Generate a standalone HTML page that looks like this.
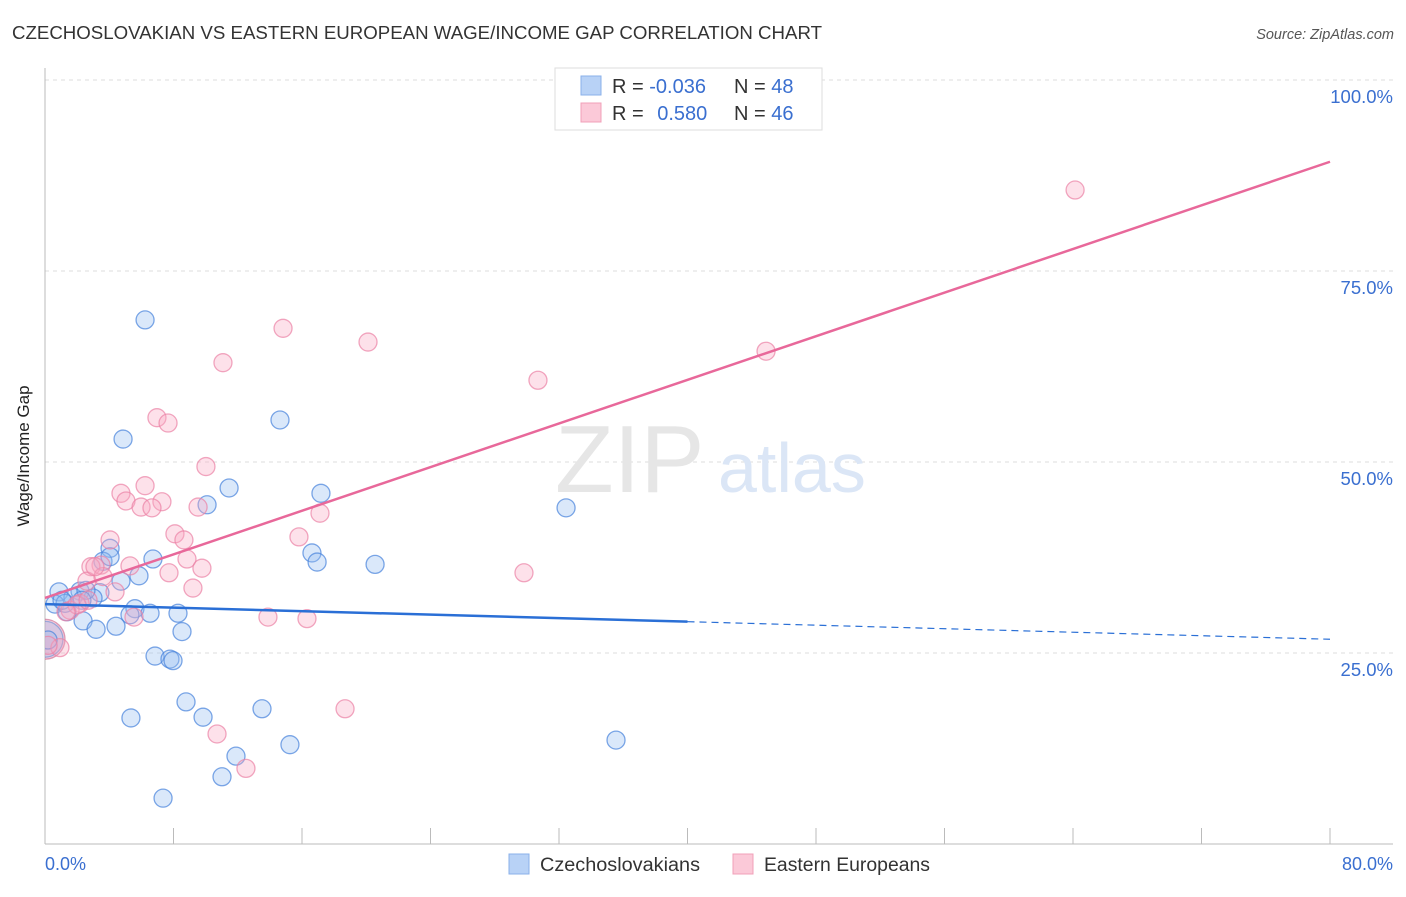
<!DOCTYPE html>
<html><head><meta charset="utf-8"><style>
body{margin:0;background:#fff;font-family:"Liberation Sans",sans-serif;}
svg text{font-family:"Liberation Sans",sans-serif;}
</style></head><body>
<svg width="1406" height="892" viewBox="0 0 1406 892">
<defs><clipPath id="pc"><rect x="45" y="60" width="1360" height="784"/></clipPath></defs>
<text x="12" y="39" font-size="18" fill="#333" textLength="810" lengthAdjust="spacingAndGlyphs">CZECHOSLOVAKIAN VS EASTERN EUROPEAN WAGE/INCOME GAP CORRELATION CHART</text>
<text x="1394" y="39" font-size="14.5" fill="#555" font-style="italic" text-anchor="end">Source: ZipAtlas.com</text>
<g id="grid"></g>
<line x1="45" y1="68" x2="45" y2="844" stroke="#bbb"/>
<line x1="45" y1="844" x2="1393" y2="844" stroke="#bbb"/>
<g id="xt"></g>
<text x="29" y="456" font-size="17" fill="#222" text-anchor="middle" transform="rotate(-90 29 456)">Wage/Income Gap</text>
<text x="45" y="870" font-size="18" fill="#3a6fd0">0.0%</text>
<text x="1393" y="870" font-size="18" fill="#3a6fd0" text-anchor="end">80.0%</text>
<text x="555" y="492" font-size="96" fill="#e6e6e6" font-family="Liberation Serif">ZIP</text>
<text x="718" y="492" font-size="70" fill="#dbe6f6">atlas</text>
<g id="pts" clip-path="url(#pc)"></g>
<g id="lines"></g>
<g>
<rect x="555" y="68" width="267" height="62" fill="#fff" stroke="#ddd"/>
<rect x="581" y="76" width="20" height="19" fill="#b8d2f6" stroke="#8ab0ea"/>
<rect x="581" y="103" width="20" height="19" fill="#fbc9d8" stroke="#f0a0b8"/>
<text x="612" y="93" font-size="20" fill="#333">R = <tspan fill="#3a6fd0">-0.036</tspan></text>
<text x="734" y="93" font-size="20" fill="#333">N = <tspan fill="#3a6fd0">48</tspan></text>
<text x="612" y="120" font-size="20" fill="#333">R = <tspan fill="#3a6fd0" dx="8">0.580</tspan></text>
<text x="734" y="120" font-size="20" fill="#333">N = <tspan fill="#3a6fd0">46</tspan></text>
</g>
<g>
<rect x="509" y="854" width="20" height="20" fill="#b8d2f6" stroke="#8ab0ea"/>
<text x="540" y="871" font-size="19" fill="#333" textLength="160" lengthAdjust="spacingAndGlyphs">Czechoslovakians</text>
<rect x="733" y="854" width="20" height="20" fill="#fbc9d8" stroke="#f0a0b8"/>
<text x="764" y="871" font-size="19" fill="#333" textLength="166" lengthAdjust="spacingAndGlyphs">Eastern Europeans</text>
</g>
</svg>
<script>
const yTicks=[25,50,75,100];
const yTickLabels=["25.0%","50.0%","75.0%","100.0%"];
const xTicks=[0,8,16,24,32,40,48,56,64,72,80];
const blueX=[6.23,4.86,14.63,11.46,10.09,17.18,32.44,4.05,6.72,16.62,16.94,20.55,5.85,4.73,3.61,0.87,0.62,2.18,3.42,2.99,1.74,1.37,1.25,5.60,5.29,6.54,8.28,2.37,3.18,4.42,8.53,6.85,7.78,7.97,8.78,5.35,9.84,13.51,11.89,15.25,11.02,7.35,35.55,0.19,1.06,2.55,4.05,2.30];
const blueY=[68.6,53.0,55.5,46.6,44.4,45.9,44.0,38.7,37.3,38.1,36.9,36.6,35.1,34.4,37.0,33.0,31.4,33.1,32.9,32.2,32.3,30.4,31.5,30.8,30.0,30.2,30.2,29.2,28.1,28.5,27.8,24.6,24.2,24.0,18.6,16.5,16.6,17.7,11.5,13.0,8.8,6.0,13.6,26.7,31.9,33.2,37.6,31.9];
const pinkX=[64.13,14.82,20.11,11.08,44.89,30.69,6.97,7.66,10.02,6.23,4.73,5.04,7.28,5.98,6.66,9.53,17.12,4.05,8.09,8.65,15.81,8.84,3.49,2.86,5.29,7.72,9.77,2.61,3.61,4.36,9.21,2.18,1.56,5.54,13.88,16.31,29.82,18.68,10.71,12.51,0.93,0.19,3.11,1.99,1.31,2.68];
const pinkY=[85.6,67.5,65.7,63.0,64.5,60.7,55.8,55.1,49.4,46.9,45.9,44.9,44.8,44.1,44.0,44.1,43.3,39.8,40.6,39.8,40.2,37.3,36.5,36.3,36.4,35.5,36.1,34.4,35.0,33.0,33.5,31.5,30.6,29.7,29.7,29.5,35.5,17.7,14.4,9.9,25.7,26.0,36.3,31.3,30.4,31.9];
const blueTrend=[31.4,26.8];
const pinkTrend=[32.2,89.3];
const xS=v=>45+v/80*1285;
const yS=v=>844-v/100*764;
const NS="http://www.w3.org/2000/svg";
function mk(t,a,p){const e=document.createElementNS(NS,t);for(const k in a)e.setAttribute(k,a[k]);p.appendChild(e);return e;}
const grid=document.getElementById('grid');
yTicks.forEach((v,i)=>{
 const l=mk('line',{x1:45,x2:1393,y1:yS(v),y2:yS(v),stroke:'#ddd','stroke-dasharray':'4,4'},grid);
 
 
 const t=mk('text',{x:1393,y:yS(v)+23,'font-size':18.5,fill:'#3a6fd0','text-anchor':'end'},grid);
 t.textContent=yTickLabels[i];
 
 
});
const xt=document.getElementById('xt');
xTicks.forEach(v=>{
 const l=mk('line',{x1:xS(v),x2:xS(v),y1:828,y2:844,stroke:'#bbb'},xt);
 
 
});
const pts=document.getElementById('pts');
function dot(x,y,r,fill,stroke,name){
 const c=mk('circle',{cx:xS(x),cy:yS(y),r:r,fill:fill,stroke:stroke,'stroke-width':1.3},pts);
 
 
}
dot(0,26.8,20,'rgba(240,150,180,0.45)','rgba(200,100,140,0.6)','big-point');
dot(0,26.8,18,'rgba(140,180,240,0.3)','rgba(80,130,210,0.5)','big-point');
blueX.forEach((x,i)=>dot(x,blueY[i],9,'rgba(150,190,240,0.35)','rgba(70,130,220,0.7)','czechoslovakian-point'));
pinkX.forEach((x,i)=>dot(x,pinkY[i],9,'rgba(248,170,195,0.35)','rgba(235,130,165,0.7)','eastern-european-point'));
const lines=document.getElementById('lines');
const by=x=>blueTrend[0]+(blueTrend[1]-blueTrend[0])*x/80;
let l=mk('line',{x1:xS(0),y1:yS(by(0)),x2:xS(40),y2:yS(by(40)),stroke:'#2a6fd6','stroke-width':2.5},lines);


l=mk('line',{x1:xS(40),y1:yS(by(40)),x2:xS(80),y2:yS(by(80)),stroke:'#2a6fd6','stroke-width':1.2,'stroke-dasharray':'7,5'},lines);


l=mk('line',{x1:xS(0),y1:yS(pinkTrend[0]),x2:xS(80),y2:yS(pinkTrend[1]),stroke:'#e8689a','stroke-width':2.5},lines);


</script>
</body></html>
